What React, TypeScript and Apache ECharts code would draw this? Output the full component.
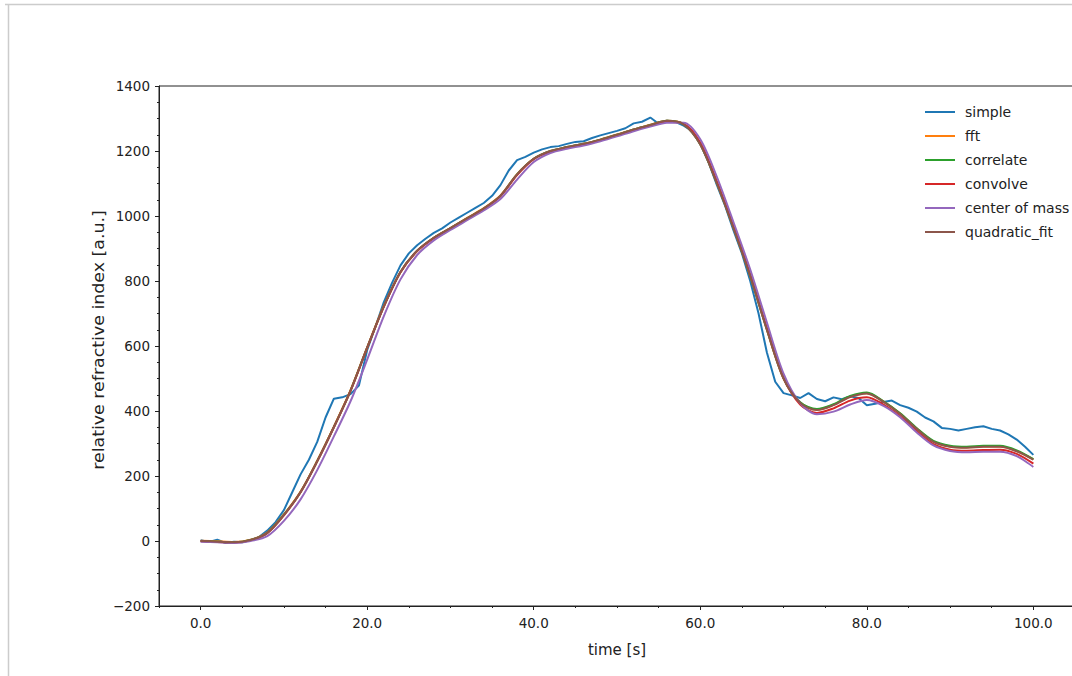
import React, { useEffect, useRef } from "react";
import * as echarts from "echarts";

const seriesNames = ["simple", "fft", "correlate", "convolve", "center of mass", "quadratic_fit"];
const seriesColors = ["#1f77b4", "#ff7f0e", "#2ca02c", "#d62728", "#9467bd", "#8c564b"];

const xTickLabels = [0, 20, 40, 60, 80, 100];

const timeFine = [
  0, 1, 2, 3, 4, 5, 6, 7, 8, 9, 10, 11, 12, 13, 14, 15, 16, 17, 18, 19, 20,
  21, 22, 23, 24, 25, 26, 27, 28, 29, 30, 31, 32, 33, 34, 35, 36, 37, 38, 39, 40,
  41, 42, 43, 44, 45, 46, 47, 48, 49, 50, 51, 52, 53, 54, 55, 56, 57, 58, 59, 60,
  61, 62, 63, 64, 65, 66, 67, 68, 69, 70, 71, 72, 73, 74, 75, 76, 77, 78, 79, 80,
  81, 82, 83, 84, 85, 86, 87, 88, 89, 90, 91, 92, 93, 94, 95, 96, 97, 98, 99, 100,
];

const timeCoarse = [
  0, 2, 4, 6, 8, 10, 12, 14, 16, 18, 20, 22, 24, 26, 28, 30, 32, 34, 36, 38, 40,
  42, 44, 46, 48, 50, 52, 54, 56, 58, 60, 62, 64, 66, 68, 70, 72, 74, 76, 78, 80,
  82, 84, 86, 88, 90, 92, 94, 96, 98, 100,
];

const simple = [
  2, -3, 4, -6, -2, -4, 3, 12, 32, 58, 95, 150, 205, 250, 305, 380, 438, 442, 452, 478, 588,
  660, 735, 795, 848, 885, 910, 930, 948, 962, 980, 995, 1010, 1025, 1040, 1062, 1095, 1140, 1172, 1182, 1195,
  1205, 1212, 1215, 1222, 1228, 1230, 1240, 1248, 1255, 1262, 1270, 1285, 1290, 1303, 1284, 1293, 1290, 1278, 1262, 1222,
  1165, 1095, 1030, 955, 885, 800, 700, 580, 490, 455, 448, 440, 455, 437, 430, 442, 436, 445, 440, 418,
  422, 428, 432, 418, 410, 398, 380, 368, 348, 345, 340, 345, 350, 353, 345, 340, 328, 312, 290, 265,
];

const fft = [
  1, -1, -3, 4, 26, 82, 152, 247, 352, 464, 596, 723, 828, 893, 933, 963, 994, 1024, 1063, 1129, 1176,
  1200, 1212, 1222, 1235, 1251, 1266, 1281, 1293, 1283, 1221, 1101, 963, 815, 650, 500, 426, 404, 419, 444, 455,
  429, 392, 346, 306, 291, 288, 291, 291, 277, 251,
];

const correlate = [
  0, -2, -4, 3, 25, 81, 151, 246, 351, 463, 595, 722, 828, 893, 933, 963, 993, 1023, 1062, 1128, 1176,
  1200, 1212, 1222, 1235, 1250, 1266, 1280, 1293, 1282, 1221, 1101, 963, 815, 651, 501, 427, 406, 421, 446, 457,
  430, 393, 347, 308, 293, 290, 293, 293, 279, 252,
];

const convolve = [
  -1, -3, -5, 2, 24, 79, 150, 245, 350, 462, 594, 721, 827, 892, 932, 962, 992, 1022, 1061, 1126, 1175,
  1198, 1210, 1220, 1233, 1248, 1264, 1278, 1290, 1284, 1226, 1106, 968, 820, 655, 502, 420, 394, 408, 432, 442,
  420, 384, 338, 298, 281, 278, 280, 281, 268, 238,
];

const centerOfMass = [
  -2, -4, -6, 0, 15, 62, 128, 218, 322, 430, 558, 692, 805, 880, 925, 957, 987, 1017, 1052, 1112, 1166,
  1194, 1207, 1217, 1230, 1245, 1261, 1275, 1287, 1287, 1236, 1120, 980, 835, 672, 515, 424, 390, 398, 420, 434,
  416, 381, 334, 294, 277, 273, 275, 275, 261, 228,
];

const quadraticFit = [
  0, -2, -4, 3, 25, 80, 150, 245, 350, 462, 595, 722, 828, 893, 933, 963, 993, 1023, 1062, 1128, 1176,
  1200, 1212, 1222, 1235, 1250, 1266, 1280, 1293, 1282, 1220, 1100, 962, 815, 650, 500, 425, 403, 418, 443, 454,
  428, 391, 345, 305, 290, 287, 290, 290, 276, 250,
];

const FONT = "'DejaVu Sans', sans-serif";
const INK = "#222222";

function pairs(t: number[], v: number[]) {
  return t.map((x, i) => [x, v[i]]);
}

export default function App() {
  const ref = useRef<HTMLDivElement>(null);
  useEffect(() => {
    const chart = echarts.init(ref.current!, null, { renderer: "svg" });
    const valueSets = [
      pairs(timeFine, simple),
      pairs(timeCoarse, fft),
      pairs(timeCoarse, correlate),
      pairs(timeCoarse, convolve),
      pairs(timeCoarse, centerOfMass),
      pairs(timeCoarse, quadraticFit),
    ];
    chart.setOption({
      animation: false,
      backgroundColor: "#ffffff",
      grid: {
        left: 159,
        right: -3,
        top: 86,
        bottom: 70,
        show: true,
        borderColor: INK,
        borderWidth: 1,
        containLabel: false,
        outerBoundsMode: "none",
      },
      legend: {
        orient: "vertical",
        left: 920,
        top: 99,
        icon: "rect",
        itemWidth: 30,
        itemHeight: 2,
        itemGap: 8,
        selectedMode: false,
        data: seriesNames,
        textStyle: {
          fontFamily: FONT,
          fontSize: 14,
          color: INK,
          lineHeight: 16,
          padding: [0, 0, 0, 5],
        },
      },
      xAxis: [
        {
          type: "value",
          min: -5,
          max: 105,
          splitLine: { show: false },
          axisLine: { show: true, onZero: false, lineStyle: { color: INK, width: 1 } },
          axisTick: {
            show: true,
            customValues: xTickLabels,
            length: 4,
            lineStyle: { color: INK, width: 1 },
          },
          axisLabel: {
            customValues: xTickLabels,
            formatter: (v: number) => v.toFixed(1),
            fontFamily: FONT,
            fontSize: 13.5,
            color: INK,
            margin: 10,
          },
        },
        {
          type: "value",
          position: "bottom",
          min: -5,
          max: 105,
          interval: 5,
          splitLine: { show: false },
          axisLine: { show: false, onZero: false },
          axisTick: { show: true, length: 2, lineStyle: { color: INK, width: 1 } },
          axisLabel: { show: false },
        },
      ],
      yAxis: {
        type: "value",
        min: -200,
        max: 1400,
        interval: 200,
        splitLine: { show: false },
        axisLine: { show: true, onZero: false, lineStyle: { color: INK, width: 1 } },
        axisTick: { show: true, length: 4, lineStyle: { color: INK, width: 1 } },
        minorTick: { show: true, splitNumber: 4, length: 2, lineStyle: { color: INK, width: 1 } },
        axisLabel: {
          formatter: (v: number) => (v < 0 ? "\u2212" + Math.abs(v) : String(v)),
          fontFamily: FONT,
          fontSize: 13.5,
          color: INK,
          margin: 9,
        },
      },
      graphic: [
        {
          type: "line",
          shape: { x1: 5, y1: 4.5, x2: 1072, y2: 4.5 },
          style: { stroke: "#cccccc", lineWidth: 1.5 },
          silent: true,
        },
        {
          type: "line",
          shape: { x1: 8.5, y1: 4, x2: 8.5, y2: 676 },
          style: { stroke: "#cccccc", lineWidth: 1.5 },
          silent: true,
        },
        {
          type: "text",
          x: 99,
          y: 340,
          rotation: Math.PI / 2,
          scaleX: 1.16,
          style: {
            text: "relative refractive index [a.u.]",
            fontFamily: FONT,
            fontSize: 15,
            fill: INK,
            align: "center",
            verticalAlign: "middle",
          },
          silent: true,
        },
        {
          type: "text",
          x: 617,
          y: 650,
          style: {
            text: "time [s]",
            fontFamily: FONT,
            fontSize: 15,
            fill: INK,
            align: "center",
            verticalAlign: "middle",
          },
          silent: true,
        },
      ],
      series: seriesNames.map((name, i) => ({
        name,
        type: "line",
        xAxisIndex: 0,
        data: valueSets[i],
        showSymbol: false,
        symbol: "none",
        smooth: i === 0 ? false : 0.3,
        lineStyle: { color: seriesColors[i], width: 2 },
        itemStyle: { color: seriesColors[i] },
        z: 2 + i,
      })),
    });
    return () => chart.dispose();
  }, []);
  return (
    <div
      ref={ref}
      style={{ position: "absolute", left: 0, top: 0, width: 1072, height: 676 }}
    />
  );
}
